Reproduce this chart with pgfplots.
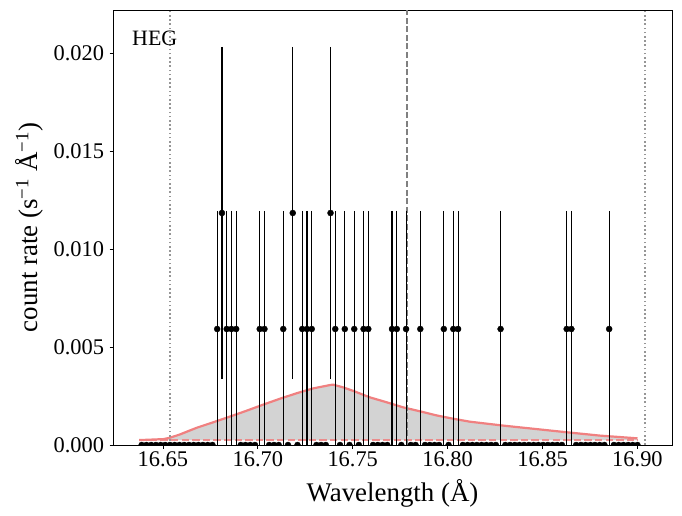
\documentclass[border=0pt]{standalone}
\usepackage{pgfplots}
\pgfplotsset{compat=1.18}
\usepackage{fontspec}
\setmainfont{Liberation Serif}
\definecolor{lcoral}{RGB}{240,128,128}
\definecolor{lgrey}{RGB}{211,211,211}
\begin{document}
\begin{tikzpicture}
\begin{axis}[
  scale only axis, width=559bp, height=435bp,
  xmin=16.6237, xmax=16.9182, ymin=0, ymax=0.0222,
  xtick={16.65,16.7,16.75,16.8,16.85,16.9},
  ytick={0,0.005,0.01,0.015,0.02},
  scaled y ticks=false, scaled x ticks=false,
  xticklabel style={/pgf/number format/.cd, fixed, fixed zerofill, precision=2},
  yticklabel style={xshift=-2bp, /pgf/number format/.cd, fixed, fixed zerofill, precision=3},
  /pgf/number format/assume math mode=true,
  tick label style={font=\fontsize{22.5}{26}\selectfont},
  label style={font=\fontsize{27}{32}\selectfont},
  tick align=outside, xtick pos=bottom, ytick pos=left,
  major tick length=3.5bp,
  tick style={black, line width=0.8bp},
  axis line style={line width=0.8bp},
  xlabel={Wavelength (Å)},
  ylabel={count rate (s\textsuperscript{−1} Å\textsuperscript{−1})},
  xlabel style={at={(axis description cs:0.5,-0.1310)}, anchor=base},
  ylabel style={at={(axis description cs:-0.1351,0.5)}, anchor=base},
  clip marker paths=true,
]
% model fill
\addplot[fill=lgrey, draw=none] coordinates {
(16.6375,0.00025) (16.6502,0.00030) (16.6537,0.00037) (16.6590,0.00054)
(16.6678,0.00088) (16.6765,0.00116) (16.6853,0.00145) (16.6941,0.00175)
(16.7028,0.00206) (16.7116,0.00236) (16.7204,0.00264) (16.7292,0.00289)
(16.7380,0.00306) (16.7397,0.00308) (16.7450,0.00294) (16.7503,0.00276)
(16.7591,0.00243) (16.7679,0.00218) (16.7766,0.00192) (16.7854,0.00172)
(16.7942,0.00151) (16.8030,0.00134) (16.8117,0.00119) (16.8205,0.00109)
(16.8293,0.00099) (16.8381,0.00090) (16.8451,0.00083) (16.8627,0.00065)
(16.8802,0.00048) (16.9000,0.00034) (16.9000,0.00025) (16.6375,0.00025)
} -- cycle;
% background level
\addplot[lcoral, opacity=0.85, line width=2.2bp, dash pattern=on 7.4bp off 3.2bp] coordinates {
(16.6375,0.00025) (16.9000,0.00025)};
% model curve
\addplot[lcoral, line width=2.2bp] coordinates {
(16.6375,0.00025) (16.6502,0.00030) (16.6537,0.00037) (16.6590,0.00054)
(16.6678,0.00088) (16.6765,0.00116) (16.6853,0.00145) (16.6941,0.00175)
(16.7028,0.00206) (16.7116,0.00236) (16.7204,0.00264) (16.7292,0.00289)
(16.7380,0.00306) (16.7397,0.00308) (16.7450,0.00294) (16.7503,0.00276)
(16.7591,0.00243) (16.7679,0.00218) (16.7766,0.00192) (16.7854,0.00172)
(16.7942,0.00151) (16.8030,0.00134) (16.8117,0.00119) (16.8205,0.00109)
(16.8293,0.00099) (16.8381,0.00090) (16.8451,0.00083) (16.8627,0.00065)
(16.8802,0.00048) (16.9000,0.00034)};
% vertical reference lines
\addplot[color={rgb,255:red,150;green,150;blue,150}, line width=1.6bp, dash pattern=on 1.6bp off 2.6bp] coordinates {(16.6537,0) (16.6537,0.0222)};
\addplot[color={rgb,255:red,150;green,150;blue,150}, line width=1.6bp, dash pattern=on 1.6bp off 2.6bp] coordinates {(16.9040,0) (16.9040,0.0222)};
\addplot[color={rgb,255:red,128;green,128;blue,128}, line width=1.8bp, dash pattern=on 6bp off 2.6bp] coordinates {(16.7787,0) (16.7787,0.0222)};
% zero-count bins
\addplot[only marks, mark=*, mark size=3bp, black] coordinates {
(16.6388,0) (16.6413,0) (16.6438,0) (16.6463,0) (16.6488,0) (16.6512,0) (16.6537,0) (16.6562,0)
(16.6587,0) (16.6612,0) (16.6637,0) (16.6662,0) (16.6687,0) (16.6711,0) (16.6736,0) (16.6761,0)
(16.6910,0) (16.6935,0) (16.6960,0) (16.6985,0)
(16.7060,0) (16.7085,0) (16.7110,0) (16.7159,0) (16.7209,0)
(16.7309,0) (16.7333,0) (16.7358,0) (16.7433,0) (16.7483,0) (16.7532,0)
(16.7607,0) (16.7632,0) (16.7657,0) (16.7682,0) (16.7756,0) (16.7806,0) (16.7831,0)
(16.7881,0) (16.7906,0) (16.7931,0) (16.7955,0) (16.8005,0)
(16.8080,0) (16.8105,0) (16.8130,0) (16.8154,0) (16.8179,0) (16.8204,0) (16.8229,0) (16.8254,0)
(16.8304,0) (16.8329,0) (16.8354,0) (16.8378,0) (16.8403,0) (16.8428,0) (16.8453,0) (16.8478,0)
(16.8503,0) (16.8528,0) (16.8553,0) (16.8577,0) (16.8602,0)
(16.8677,0) (16.8702,0) (16.8727,0) (16.8752,0) (16.8776,0) (16.8801,0) (16.8826,0)
(16.8876,0) (16.8901,0) (16.8926,0) (16.8951,0) (16.8975,0) (16.9000,0)};
% bins with counts
\addplot[only marks, mark=*, mark size=3bp, black,
  error bars/.cd, y dir=both, y explicit,
  error bar style={line width=1.1bp, black},
  error mark options={black, line width=1.1bp, mark size=2bp}]
  table[x=x, y=y, y error=e] {
x y e
16.6786 0.00592 0.00592
16.6811 0.01184 0.00837
16.6836 0.00592 0.00592
16.6861 0.00592 0.00592
16.6886 0.00592 0.00592
16.7010 0.00592 0.00592
16.7035 0.00592 0.00592
16.7134 0.00592 0.00592
16.7184 0.01184 0.00837
16.7234 0.00592 0.00592
16.7259 0.00592 0.00592
16.7284 0.00592 0.00592
16.7383 0.01184 0.00837
16.7408 0.00592 0.00592
16.7458 0.00592 0.00592
16.7508 0.00592 0.00592
16.7557 0.00592 0.00592
16.7582 0.00592 0.00592
16.7707 0.00592 0.00592
16.7732 0.00592 0.00592
16.7781 0.00592 0.00592
16.7856 0.00592 0.00592
16.7980 0.00592 0.00592
16.8030 0.00592 0.00592
16.8055 0.00592 0.00592
16.8279 0.00592 0.00592
16.8627 0.00592 0.00592
16.8652 0.00592 0.00592
16.8851 0.00592 0.00592
};
\node[anchor=base west, inner sep=0pt, font=\fontsize{22}{26}\selectfont] at (rel axis cs:0.034,0.9195) {HEG};
\coordinate (sw) at (rel axis cs:0,0);
\coordinate (ne) at (rel axis cs:1,1);
\end{axis}
\pgfresetboundingbox
\path[use as bounding box] ([xshift=-113bp,yshift=-71bp]sw) rectangle ([xshift=10bp,yshift=10bp]ne);
\end{tikzpicture}
\end{document}
